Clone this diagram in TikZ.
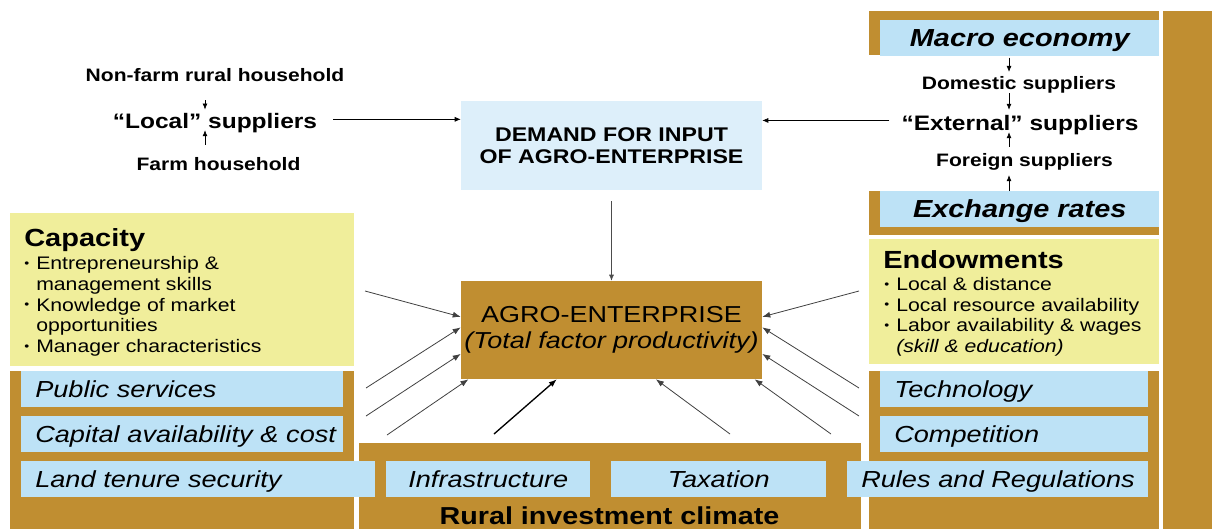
\documentclass[tikz,border=0pt]{standalone}
\usepackage{fontspec}
\setmainfont{Liberation Sans}[FakeStretch=1.17]
\usetikzlibrary{arrows.meta,calc}

\definecolor{ochre}{RGB}{192,142,49}
\definecolor{paleblue}{RGB}{189,226,246}
\definecolor{paleyellow}{RGB}{240,238,155}
\definecolor{demandblue}{RGB}{221,239,250}

\newcommand{\bul}{\makebox[9pt][l]{\raisebox{1.6pt}{\fontsize{9}{9}\selectfont\textbullet}}}

\tikzset{
  src/.style={font=\bfseries\fontsize{13.5}{15}\selectfont, inner sep=0pt, anchor=base},
  supp/.style={font=\bfseries\fontsize{15.7}{18}\selectfont, inner sep=0pt, anchor=base},
  rate/.style={fill=paleblue, anchor=north west, inner sep=0pt, minimum width=209.25pt, minimum height=26.5pt,
    font=\bfseries\itshape\fontsize{18.5}{20}\selectfont, text height=13.2pt, text depth=0pt},
  bluebox/.style={rectangle, fill=paleblue, anchor=north west, inner sep=0pt, minimum height=27pt,
    font=\itshape\fontsize{17.4}{20}\selectfont, text height=12.5pt, text depth=0pt},
  factor/.style={bluebox, text width=#1, align=left, execute at begin node={\hspace*{10.5pt}}},
  factorc/.style={bluebox, text width=#1, align=center},
  head/.style={font=\bfseries\fontsize{18.6}{20}\selectfont, inner sep=0pt, anchor=base west},
  items/.style={font=\fontsize{13.6}{15.6}\selectfont, inner sep=0pt, anchor=north west, align=left},
  supply/.style={-{Latex[length=4.5pt,width=3.75pt]}, line width=0.5pt},
  feed/.style={-{Latex[length=6pt,width=4.5pt]}, line width=0.6pt, draw=black!75},
}

\begin{document}
\begin{tikzpicture}[x=0.75pt,y=0.75pt,yscale=-1,xscale=1]
\useasboundingbox (0,0) rectangle (1212,529);

%Panels
\fill[ochre] (10,371) rectangle (354,529);
\fill[ochre] (359,443) rectangle (861,529);
\fill[ochre] (869,371) rectangle (1159,529);
\fill[ochre] (869,11) rectangle (1159,55);
\fill[ochre] (869,191) rectangle (1159,235);
\fill[ochre] (1163,11) rectangle (1212,529);
\fill[paleyellow] (10,213) rectangle (354,366);
\fill[paleyellow] (869,239) rectangle (1159,364);

% Text Node
\node[src] (nonfarm) at (215,81) {Non-farm rural household};
% Text Node
\node[supp] (local) at (215,128.3) {“Local” suppliers};
% Text Node
\node[src] (farm) at (218.5,170) {Farm household};

% Text Node
\node[rate] (macro) at (880,20) {Macro economy};
% Text Node
\node[src] (domestic) at (1019,89.3) {Domestic suppliers};
% Text Node
\node[supp] (external) at (1020,130) {“External” suppliers};
% Text Node
\node[src] (foreign) at (1024.5,166.7) {Foreign suppliers};
% Text Node
\node[rate] (exchange) at (880,191) {Exchange rates};

% Demand and enterprise
\node[fill=demandblue, inner sep=0pt, minimum width=225.75pt, minimum height=66.75pt, align=center,
  font=\bfseries\fontsize{14.85}{16.2}\selectfont] (demand) at (611.5,145.5) {DEMAND FOR INPUT\\OF AGRO-ENTERPRISE};
\node[fill=ochre, inner sep=0pt, minimum width=225.75pt, minimum height=73.5pt, align=center,
  font=\fontsize{17.3}{19.3}\selectfont] (agro) at (611.5,330) {AGRO-ENTERPRISE\\{\itshape (Total factor productivity)}};

% Capacity and endowments
\node[head] (capacity) at (24,246.7) {Capacity};
\node[items] (capacitylist) at (24,256) {\bul Entrepreneurship \&\\
  \hspace*{9pt}management skills\\
  \bul Knowledge of market\\
  \hspace*{9pt}opportunities\\
  \bul Manager characteristics};
\node[head] (endowments) at (883,268) {Endowments};
\node[items] (endowmentlist) at (884,276.8) {\bul Local \& distance\\
  \bul Local resource availability\\
  \bul Labor availability \& wages\\
  \hspace*{9pt}{\itshape (skill \& education)}};

% Climate factors
\node[factor=241.5pt] (public) at (21,371) {Public services};
\node[factor=241.5pt] (capital) at (21,416) {Capital availability \& cost};
\node[factor=265.5pt] (land) at (21,461) {Land tenure security};
\node[factorc=153pt] (infra) at (386,461) {Infrastructure};
\node[factorc=161.25pt] (tax) at (611,461) {Taxation};
\node[factor=225.75pt] (rules) at (847,461) {Rules and Regulations};
\node[factor=201pt] (tech) at (880,371) {Technology};
\node[factor=201pt] (comp) at (880,416) {Competition};
\node[font=\bfseries\fontsize{18.4}{20}\selectfont, inner sep=0pt, anchor=base] (climate) at (609.5,524.5) {Rural investment climate};

%Supplier arrows
\coordinate (stemL) at (205,0);
\coordinate (stemR) at (1009,0);
\draw[supply, shorten <=14.25pt, shorten >=2.5pt] (nonfarm.south -| stemL) -- (local.north -| stemL);
\draw[supply, shorten <=9pt, shorten >=-2pt] (farm.north -| stemL) -- (local.south -| stemL);
\draw[supply, shorten <=1.3pt, shorten >=3.1pt] (macro.south -| stemR) -- (domestic.north -| stemR);
\draw[supply, shorten >=3.6pt] (domestic.south -| stemR) -- (external.north -| stemR);
\draw[supply, shorten <=5pt, shorten >=-1.8pt] (foreign.north -| stemR) -- (external.south -| stemR);
\draw[supply, shorten >=3.3pt] (exchange.north -| stemR) -- (foreign.south -| stemR);
\draw[supply, shorten <=12pt] (local.2) -- (local.2 -| demand.west);
\draw[supply, shorten <=9pt] (external.178) -- (external.178 -| demand.east);
\draw[supply, draw=black!70, shorten <=8.25pt] (demand) -- (agro);

%Straight Lines into the enterprise
\coordinate (fromCapacity) at (365,291);
\coordinate (fromPublic) at (366,388);
\coordinate (fromCapital) at (366,416);
\coordinate (fromLand) at (387,435);
\coordinate (fromInfra) at (494,434);
\coordinate (fromTax) at (730,434);
\coordinate (fromRules) at (831,434);
\coordinate (fromEndow) at (859,291);
\coordinate (fromTech) at (859,388);
\coordinate (fromComp) at (859,416);
\draw[feed] (fromCapacity) -- (agro.175);
\draw[feed] (fromPublic) -- (agro.179);
\draw[feed] (fromCapital) -- (agro.189);
\draw[feed] (fromLand) -- (agro.199);
\draw[feed, line width=1pt, draw=black] (fromInfra) -- (agro.222);
\draw[feed] (fromTax) -- (agro.312);
\draw[feed] (fromRules) -- (agro.341);
\draw[feed] (fromEndow) -- (agro.5);
\draw[feed] (fromTech) -- (agro.1);
\draw[feed] (fromComp) -- (agro.351);

\end{tikzpicture}
\end{document}
